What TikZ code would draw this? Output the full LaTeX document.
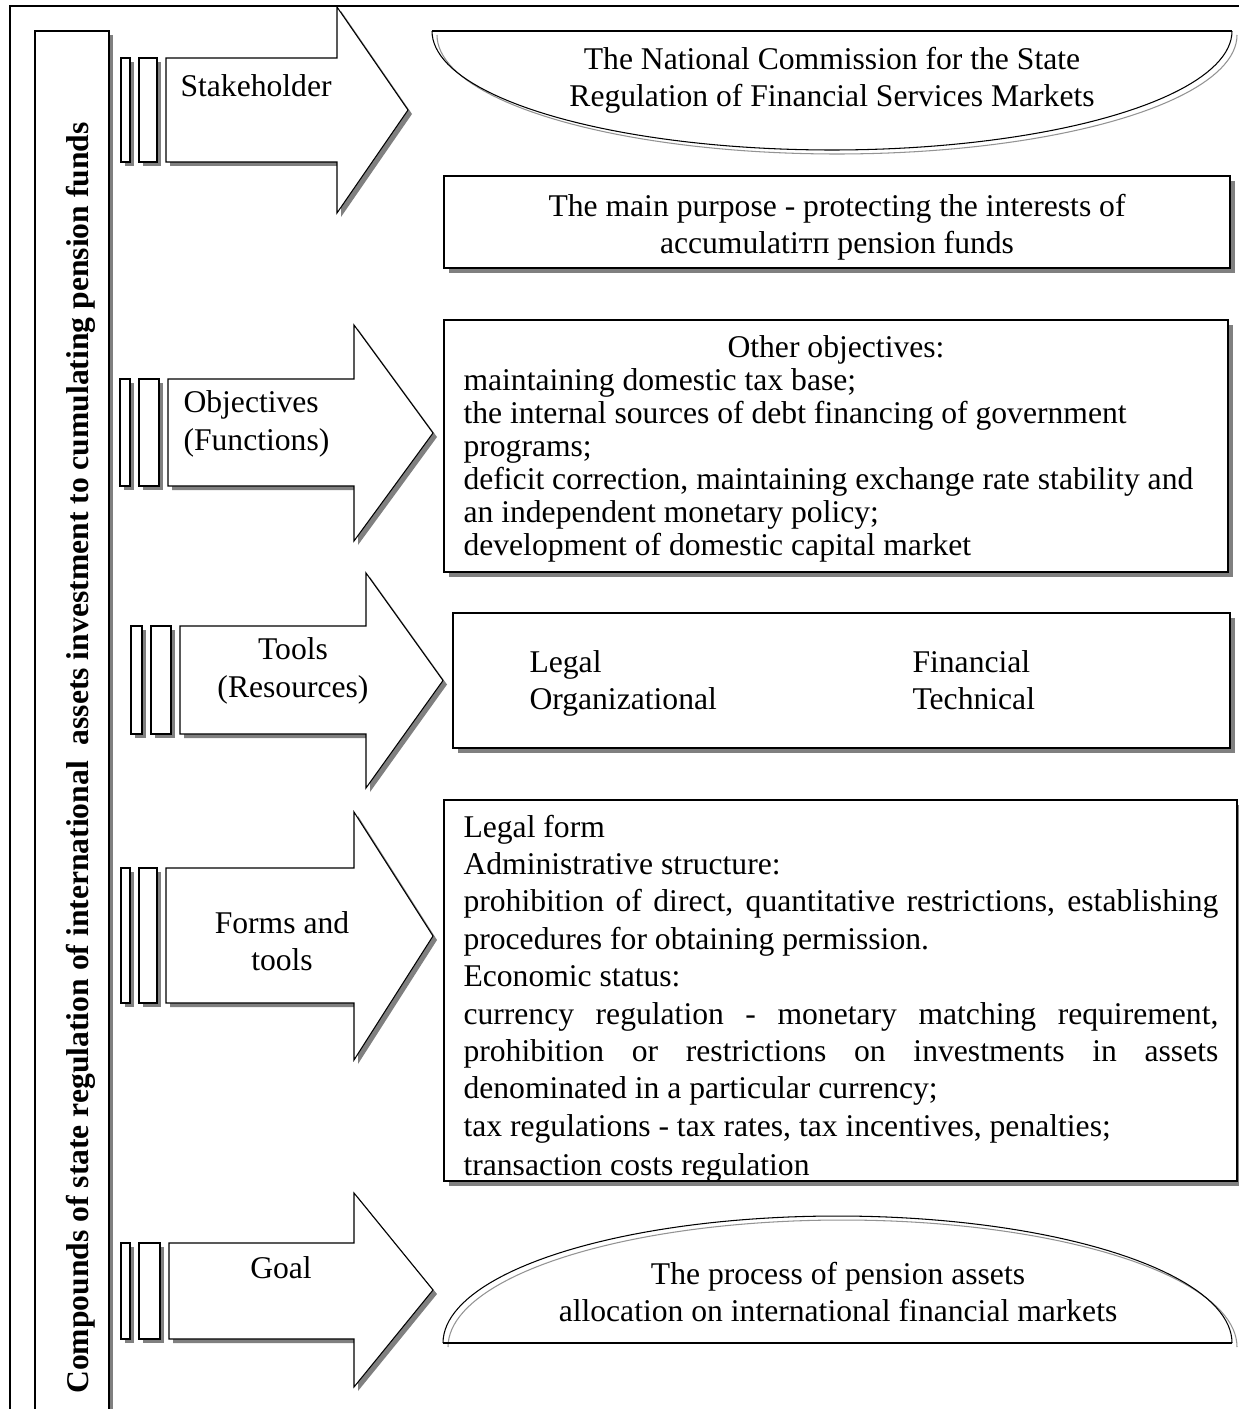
\documentclass[tikz,border=0pt]{standalone}
\usepackage{fontspec}
\setmainfont{Liberation Serif}
\newcommand\shadowcol{black!50}
% big arrow: #1 body left, #2 body top, #3 body bottom, #4 head x, #5 head top, #6 head bottom, #7 tip x
\newcommand\bigarrow[7]{%
  \fill[\shadowcol, shift={(4,4)}] (#1,#2) -- (#4,#2) -- (#4,#5) -- (#7,{(#5+#6)/2}) -- (#4,#6) -- (#4,#3) -- (#1,#3) -- cycle;
  \draw[fill=white] (#1,#2) -- (#4,#2) -- (#4,#5) -- (#7,{(#5+#6)/2}) -- (#4,#6) -- (#4,#3) -- (#1,#3) -- cycle;}
% small bar with shadow
\newcommand\smallbar[4]{%
  \fill[\shadowcol, shift={(4,4)}] (#1,#3) rectangle (#2,#4);
  \draw[fill=white] (#1,#3) rectangle (#2,#4);}
% box with shadow
\newcommand\shbox[4]{%
  \fill[\shadowcol, shift={(5,5)}] (#1,#2) rectangle (#3,#4);
  \draw[fill=white] (#1,#2) rectangle (#3,#4);}
\begin{document}
\begin{tikzpicture}[x=0.02cm,y=-0.02cm,line width=0.6pt,
  txt/.style={font=\fontsize{18}{21.2}\selectfont, inner sep=0pt},
  ln/.style={txt, anchor=west, execute at begin node=\strut}]
\useasboundingbox (0,0) rectangle (1239,1409);
\clip (0,0) rectangle (1239,1409);
\fill[white] (0,0) rectangle (1239,1409);

% outer frame
\draw (10,1430) -- (10,6) -- (1260,6);

% vertical label box
\fill[\shadowcol] (39,35) rectangle (113,1430);
\draw[fill=white] (35,31) rectangle (109,1430);
\node[txt, font=\fontsize{18}{21.2}\selectfont\bfseries, rotate=90, anchor=base] (lab) at (88,758)
  {Compounds of state regulation of international \ assets investment to cumulating pension funds};

% ---- Stakeholder
\smallbar{121}{130}{58}{162}
\smallbar{139}{157}{58}{162}
\bigarrow{166}{58}{162}{337}{7}{213}{408}
\node[txt, anchor=west] (stk) at (180,86) {Stakeholder};

% top half-ellipse
\draw[gray!85, shift={(5,4)}] plot[domain=180:360, samples=90] ({832+400*cos(\x)},{31-119*sin(\x)});
\draw (432,31) -- (1232,31);
\draw plot[domain=180:360, samples=90] ({832+400*cos(\x)},{31-119*sin(\x)});
\node[txt, align=center] (ncom) at (832,80) {The National Commission for the State\\Regulation of Financial Services Markets};

% main purpose box
\shbox{444}{176}{1230}{268}
\node[txt, align=center] (purp) at (837,227) {The main purpose - protecting the interests of\\accumulatiтп pension funds};

% ---- Objectives
\smallbar{120}{130}{379}{486}
\smallbar{139}{159}{379}{486}
\bigarrow{168}{379}{486}{354}{325}{541}{433}
\node[txt, align=left, anchor=west] (obj) at (183,424) {Objectives\\(Functions)};

\shbox{444}{320}{1228}{572}
\node[ln, anchor=center] (o0) at (836,350) {Other objectives:};
\node[ln] (o1) at (463,383) {maintaining domestic tax base;};
\node[ln] (o2) at (463,416) {the internal sources of debt financing of government};
\node[ln] (o3) at (463,449) {programs;};
\node[ln] (o4) at (463,482) {deficit correction, maintaining exchange rate stability and};
\node[ln] (o5) at (463,515) {an independent monetary policy;};
\node[ln] (o6) at (463,548) {development of domestic capital market};

% ---- Tools
\smallbar{131}{142}{626}{734}
\smallbar{151}{171}{626}{734}
\bigarrow{180}{626}{734}{366}{573}{788}{443}
\node[txt, align=center] (tls) at (293,671) {Tools\\(Resources)};

\shbox{453}{613}{1230}{748}
\node[ln] (t1) at (529,665) {Legal};
\node[ln] (t2) at (529,702) {Organizational};
\node[ln] (t3) at (912,665) {Financial};
\node[ln] (t4) at (912,702) {Technical};

% ---- Forms and tools
\smallbar{121}{130}{868}{1003}
\smallbar{139}{157}{868}{1003}
\bigarrow{166}{868}{1003}{354}{812}{1060}{433}
\node[txt, align=center] (frm) at (282,941) {Forms and\\tools};

\shbox{444}{800}{1237}{1181}
\begin{scope}
\clip (444,800) rectangle (1237,1180);
\node[ln] (f1) at (463,830) {Legal form};
\node[ln] (f2) at (463,867) {Administrative structure:};
\node[ln] (f3) at (463,904) {\makebox[15.1cm][s]{prohibition of direct, quantitative restrictions, establishing}};
\node[ln] (f4) at (463,942) {procedures for obtaining permission.};
\node[ln] (f5) at (463,979) {Economic status:};
\node[ln] (f6) at (463,1017) {\makebox[15.1cm][s]{currency regulation - monetary matching requirement,}};
\node[ln] (f7) at (463,1054) {\makebox[15.1cm][s]{prohibition or restrictions on investments in assets}};
\node[ln] (f8) at (463,1091) {denominated in a particular currency;};
\node[ln] (f9) at (463,1129) {tax regulations - tax rates, tax incentives, penalties;};
\node[ln] (f10) at (463,1168) {transaction costs regulation};
\end{scope}
\draw (444,1181) -- (1237,1181);

% ---- Goal
\smallbar{121}{130}{1243}{1339}
\smallbar{139}{160}{1243}{1339}
\bigarrow{169}{1243}{1339}{354}{1193}{1387}{433}
\node[txt] (goal) at (281,1268) {Goal};

\draw[gray!85, shift={(5,4)}] plot[domain=0:180, samples=90] ({837.5+394.5*cos(\x)},{1343-127*sin(\x)});
\draw (443,1343) -- (1232,1343);
\draw plot[domain=0:180, samples=90] ({837.5+394.5*cos(\x)},{1343-127*sin(\x)});
\node[txt, align=center] (proc) at (838,1292) {The process of pension assets\\allocation on international financial markets};
\end{tikzpicture}
\end{document}
